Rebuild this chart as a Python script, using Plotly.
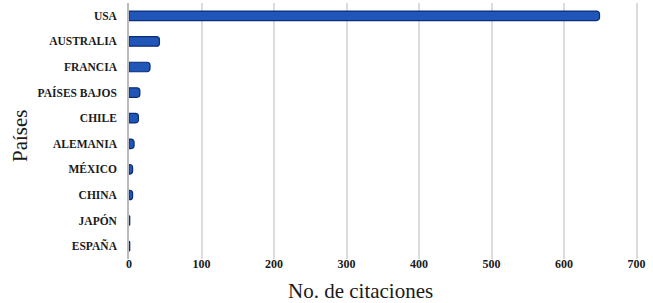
import plotly.graph_objects as go

countries = ["USA", "AUSTRALIA", "FRANCIA", "PAÍSES BAJOS", "CHILE",
             "ALEMANIA", "MÉXICO", "CHINA", "JAPÓN", "ESPAÑA"]
citations = [649, 42, 29, 15, 13, 7, 5, 5, 1, 1]
x_ticks = [0, 100, 200, 300, 400, 500, 600, 700]
x_title = "No. de citaciones"
y_title = "Países"

fig = go.Figure(go.Bar(
    x=citations,
    y=countries,
    orientation="h",
    width=0.37,
    marker=dict(color="#1f56b8", line=dict(color="#0d2d78", width=1.2), cornerradius=3),
))

SERIF = "Liberation Serif, Times New Roman, serif"

fig.update_layout(
    width=653, height=303,
    margin=dict(l=129, r=2, t=3, b=44),
    paper_bgcolor="white", plot_bgcolor="white",
    showlegend=False,
    font=dict(family=SERIF, color="#1a1a1a"),
    annotations=[
        dict(text=x_title, xref="paper", yref="paper", x=0.444, y=-0.125,
             xanchor="center", yanchor="middle", showarrow=False,
             font=dict(family=SERIF, size=21, color="#1a1a1a")),
        dict(text=y_title, xref="paper", yref="paper", x=-0.209, y=0.484,
             xanchor="center", yanchor="middle", showarrow=False, textangle=-90,
             font=dict(family=SERIF, size=21, color="#1a1a1a")),
    ],
)
fig.update_xaxes(
    range=[0, 720], tickvals=x_ticks,
    ticktext=[f"<b>{v}</b>" for v in x_ticks],
    showgrid=True, gridcolor="#dcdcdc", gridwidth=1.5,
    zeroline=False, showline=False, automargin=False,
    tickfont=dict(family=SERIF, size=12, color="#1a1a1a"),
    ticks="", ticklabelstandoff=-4,
)
fig.update_yaxes(
    categoryorder="array", categoryarray=countries[::-1],
    tickvals=countries, ticktext=[f"<b>{c}</b>" for c in countries],
    showgrid=False, zeroline=False, automargin=False,
    showline=True, linecolor="#bbbbbb", linewidth=1.5,
    tickfont=dict(family=SERIF, size=11.5, color="#1a1a1a"),
    ticks="", ticklabelstandoff=8,
)

fig.write_html("out.html", config={"displayModeBar": False},
               post_script="document.body.style.margin='0';document.body.style.overflow='hidden';")
